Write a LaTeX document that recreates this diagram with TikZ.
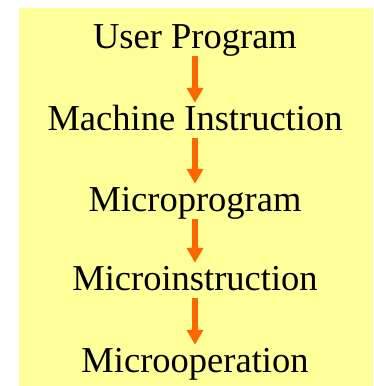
\documentclass[tikz,border=0pt]{standalone}
\usepackage{fontspec}
\setmainfont{Liberation Serif}
\usepackage{xcolor}
\usetikzlibrary{arrows.meta}
\definecolor{paleyellow}{RGB}{255,255,153}
\definecolor{arroworange}{RGB}{255,102,0}

\begin{document}
\begin{tikzpicture}
\def\s{36.5pt}
\def\l{15pt}
\def\w{16pt}
\useasboundingbox (0,0) rectangle (373pt,-386pt);
\fill[paleyellow] (19pt,-8pt) rectangle (373pt,-386pt);
%\draw[red] (195pt,0) -- (195pt,-386pt);
\node [anchor=base, inner sep=0pt, text height=27pt, text depth=8pt, font=\fontsize{\s}{40pt}\selectfont, name=l1] at (195pt,-48pt) {User Program};
\node [anchor=base, inner sep=0pt, text height=27pt, text depth=8pt, font=\fontsize{\s}{40pt}\selectfont, name=l2] at (195pt,-130pt) {Machine Instruction};
\node [anchor=base, inner sep=0pt, text height=27pt, text depth=8pt, font=\fontsize{\s}{40pt}\selectfont, name=l3] at (195pt,-211pt) {Microprogram};
\node [anchor=base, inner sep=0pt, text height=27pt, text depth=8pt, font=\fontsize{\s}{40pt}\selectfont, name=l4] at (195pt,-290pt) {Microinstruction};
\node [anchor=base, inner sep=0pt, text height=27pt, text depth=8pt, font=\fontsize{\s}{40pt}\selectfont, name=l5] at (195pt,-372pt) {Microoperation};
\draw [arroworange, line width=6pt, -{Triangle[length=\l, width=\w]}](l1) -- (l2);
\draw [arroworange, line width=6pt, -{Triangle[length=\l, width=\w]}](l2) -- (l3);
\draw [arroworange, line width=6pt, -{Triangle[length=\l, width=\w]}](l3) -- (l4);
\draw [arroworange, line width=6pt, -{Triangle[length=\l, width=\w]}](l4) -- (l5);
\end{tikzpicture}
\end{document}
